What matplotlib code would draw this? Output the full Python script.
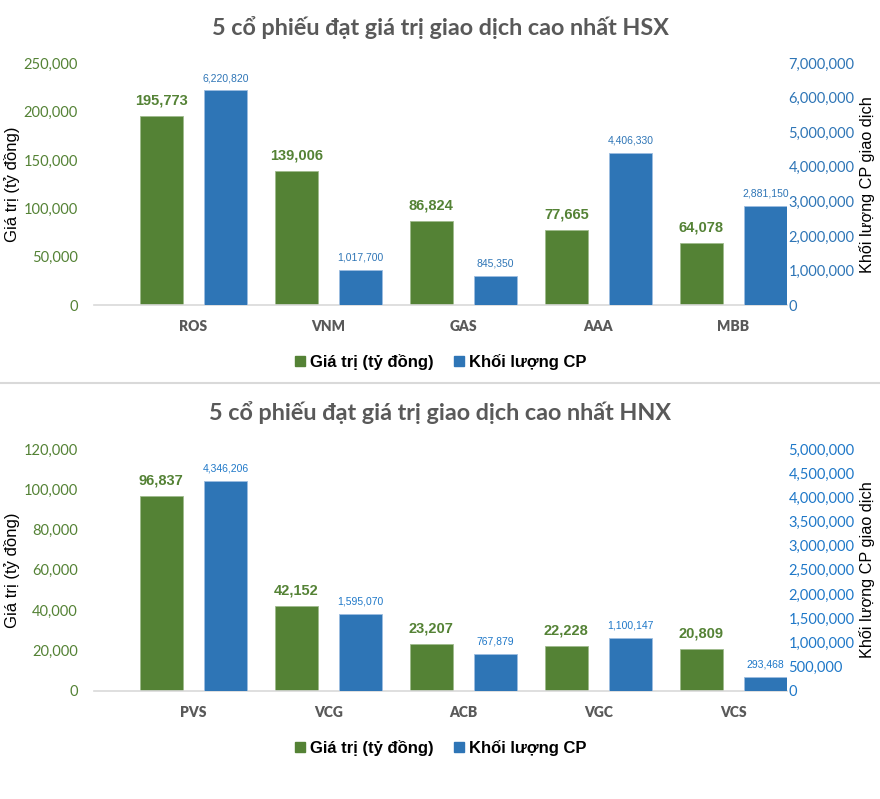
import matplotlib
matplotlib.use('Agg')
import matplotlib.pyplot as plt
from matplotlib.patches import Patch
from matplotlib.lines import Line2D
from matplotlib.ticker import FuncFormatter, MultipleLocator
import numpy as np

# data
hsx_codes = ['ROS', 'VNM', 'GAS', 'AAA', 'MBB']
hsx_value = [195773, 139006, 86824, 77665, 64078]
hsx_volume = [6220820, 1017700, 845350, 4406330, 2881150]

hnx_codes = ['PVS', 'VCG', 'ACB', 'VGC', 'VCS']
hnx_value = [96837, 42152, 23207, 22228, 20809]
hnx_volume = [4346206, 1595070, 767879, 1100147, 293468]

GREEN = '#548235'
BLUE = '#2E75B6'
GRAY = '#595959'
W, H = 880, 799

plt.rcParams['font.family'] = ['Lato', 'Open Sans', 'DejaVu Sans']
ARIAL = ['Liberation Sans', 'DejaVu Sans']

fig = plt.figure(figsize=(8.8, 7.99), dpi=100)

thousands = FuncFormatter(lambda v, p: '{:,.0f}'.format(v))


def panel(top_px, title, codes, values, volumes, ymax, ystep, y2max, y2step, blue_tick):
	bottom_px = top_px + 241.7
	rect = [94.3 / W, 1 - bottom_px / H, (787 - 94.3) / W, 241.7 / H]
	ax = fig.add_axes(rect)
	ax2 = ax.twinx()

	x = np.arange(len(codes))
	off, bw = 0.238, 0.315
	ax.bar(x - off, values, width=bw, color=GREEN, edgecolor='#9fbb8c', linewidth=0.6)
	ax2.bar(x + off, volumes, width=bw, color=BLUE, edgecolor='#9dbde0', linewidth=0.6)

	ax.set_xlim(-0.734, 4.397)
	ax.set_ylim(0, ymax)
	ax2.set_ylim(0, y2max)
	ax.yaxis.set_major_locator(MultipleLocator(ystep))
	ax2.yaxis.set_major_locator(MultipleLocator(y2step))
	ax.yaxis.set_major_formatter(thousands)
	ax2.yaxis.set_major_formatter(thousands)

	ax.set_xticks(x)
	ax.set_xticklabels(codes, fontweight='heavy', color=GRAY, fontsize=10)
	ax.tick_params(axis='x', length=0, pad=11)
	ax.tick_params(axis='y', length=0, pad=12, labelcolor=GREEN, labelsize=10.5)
	ax2.tick_params(axis='y', length=0, pad=1, labelcolor=blue_tick, labelsize=10.5)

	for a in (ax, ax2):
		for s in a.spines.values():
			s.set_visible(False)
	ax.spines['bottom'].set_visible(True)
	ax.spines['bottom'].set_color('#d9d9d9')
	ax.spines['bottom'].set_linewidth(1.2)

	for xi, v in zip(x, values):
		ax.annotate('{:,}'.format(v), (xi - off, v), xytext=(0, 6), textcoords='offset points',
					ha='center', va='bottom', color=GREEN, fontweight='bold', fontsize=10.5, family=ARIAL)
	for xi, v in zip(x, volumes):
		ax2.annotate('{:,}'.format(v), (xi + off, v), xytext=(0, 5), textcoords='offset points',
					 ha='center', va='bottom', color=blue_tick, fontsize=7.5, family=ARIAL)

	fig.text(0.5, 1 - (top_px - 36) / H, title, ha='center', va='center',
			 fontsize=16.8, fontweight='bold', color=GRAY)

	mid = (top_px + bottom_px) / 2
	fig.text(12 / W, 1 - mid / H, 'Giá trị (tỷ đồng)', rotation=90, ha='center', va='center',
			 fontsize=12, family=ARIAL)
	fig.text(867 / W, 1 - mid / H, 'Khối lượng CP giao dịch', rotation=90, ha='center', va='center',
			 fontsize=11.7, family=ARIAL)

	handles = [Patch(color=GREEN, label='Giá trị (tỷ đồng)'), Patch(color=BLUE, label='Khối lượng CP')]
	fig.legend(handles=handles, loc='center', bbox_to_anchor=(441 / W, 1 - (bottom_px + 57) / H),
			   ncol=2, frameon=False, handlelength=0.6, handleheight=0.6, handletextpad=0.3,
			   columnspacing=1.2, prop={'family': ARIAL, 'weight': 'bold', 'size': 12})


panel(63.3, '5 cổ phiếu đạt giá trị giao dịch cao nhất HSX', hsx_codes, hsx_value, hsx_volume,
	  250000, 50000, 7000000, 1000000, BLUE)
panel(449, '5 cổ phiếu đạt giá trị giao dịch cao nhất HNX', hnx_codes, hnx_value, hnx_volume,
	  120000, 20000, 5000000, 500000, '#1f78c8')

# separator between the two charts
fig.add_artist(Line2D([0, 1], [1 - 383 / H] * 2, color='#d9d9d9', lw=1.5, transform=fig.transFigure))

fig.savefig('out.png', dpi=100)
